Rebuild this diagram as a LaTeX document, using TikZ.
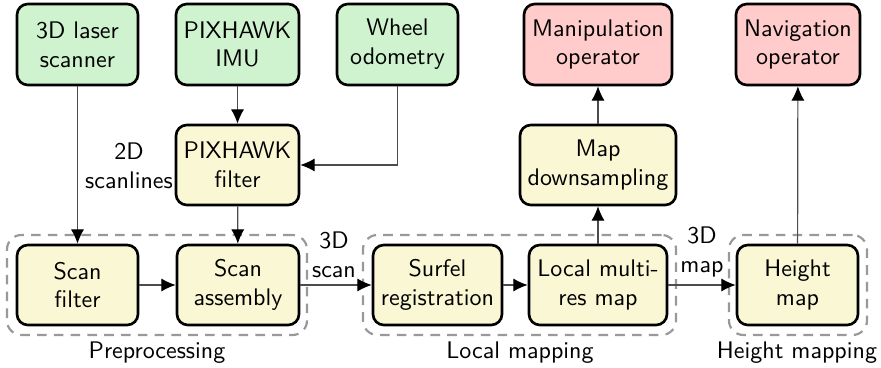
\documentclass[tikz,border=0pt]{standalone}
\usetikzlibrary{arrows.meta}
\definecolor{srcgreen}{RGB}{206,243,206}
\definecolor{procyellow}{RGB}{250,247,213}
\definecolor{opred}{RGB}{255,203,203}
\begin{document}
\begin{tikzpicture}[x=0.41667pt,y=-0.41667pt,
  font=\sffamily,
  box/.style={draw=black,line width=1.1pt,rounded corners=4.5pt,align=center,inner sep=2pt,minimum height=80*0.41667pt},
  src/.style={box,fill=srcgreen},
  proc/.style={box,fill=procyellow},
  op/.style={box,fill=opred},
  group/.style={draw=black!40,line width=0.9pt,dash pattern=on 4pt off 3pt,rounded corners=6pt},
  conn/.style={draw=black!70,line width=0.5pt,-{Latex[length=6pt,width=5.5pt,color=black]}},
  lbl/.style={align=center,inner sep=0pt}]
\useasboundingbox (0,0) rectangle (881,368);
% groups
\node[group,minimum width=300*0.41667pt,minimum height=100*0.41667pt] (gpre) at (157,285) {};
\node[group,minimum width=313*0.41667pt,minimum height=100*0.41667pt] (gloc) at (519.5,285) {};
\node[group,minimum width=138*0.41667pt,minimum height=100*0.41667pt] (ghm) at (798,285) {};
\node[lbl] (tpre) at (157,353) {Preprocessing};
\node[lbl] (tloc) at (520,353) {Local mapping};
\node[lbl] (thm) at (797,353) {Height mapping};
% sources
\node[src,minimum width=121*0.41667pt,minimum height=81*0.41667pt] (laser) at (77.5,44.5) {3D laser\\scanner};
\node[src,minimum width=123*0.41667pt,minimum height=81*0.41667pt] (imu) at (237.5,44.5) {PIXHAWK\\IMU};
\node[src,minimum width=121*0.41667pt,minimum height=81*0.41667pt] (wheel) at (397.5,44.5) {Wheel\\odometry};
% operators
\node[op,minimum width=148*0.41667pt,minimum height=81*0.41667pt] (manip) at (598,44.5) {Manipulation\\operator};
\node[op,minimum width=124*0.41667pt,minimum height=81*0.41667pt] (nav) at (798,44.5) {Navigation\\operator};
% middle row
\node[proc,minimum width=123*0.41667pt] (pfilter) at (237.5,165) {PIXHAWK\\filter};
\node[proc,minimum width=156*0.41667pt] (downs) at (598,165) {Map\\downsampling};
% bottom row
\node[proc,minimum width=121*0.41667pt] (sfilter) at (77.5,285) {Scan\\filter};
\node[proc,minimum width=122*0.41667pt] (sasm) at (238,285) {Scan\\assembly};
\node[proc,minimum width=129*0.41667pt] (surfel) at (437.5,285) {Surfel\\registration};
\node[proc,minimum width=138*0.41667pt] (local) at (598,285) {Local multi-\\res map};
\node[proc,minimum width=121*0.41667pt] (height) at (797.5,285) {Height\\map};
% labels
\node[lbl] (l2d) at (129,166) {2D\\scanlines};
\node[lbl] (l3ds) at (334,255) {3D\\scan};
\node[lbl] (l3dm) at (702,252) {3D\\map};
% connectors
\draw[conn] (laser) -- (sfilter);
\draw[conn] (imu) -- (pfilter);
\draw[conn] (wheel.south) |- (pfilter.east);
\draw[conn] (pfilter) -- (sasm);
\draw[conn] (sfilter) -- (sasm);
\draw[conn] (sasm) -- (surfel);
\draw[conn] (surfel) -- (local);
\draw[conn] (local) -- (downs);
\draw[conn] (downs) -- (manip);
\draw[conn] (local) -- (height);
\draw[conn] (height) -- (nav);
\end{tikzpicture}
\end{document}
